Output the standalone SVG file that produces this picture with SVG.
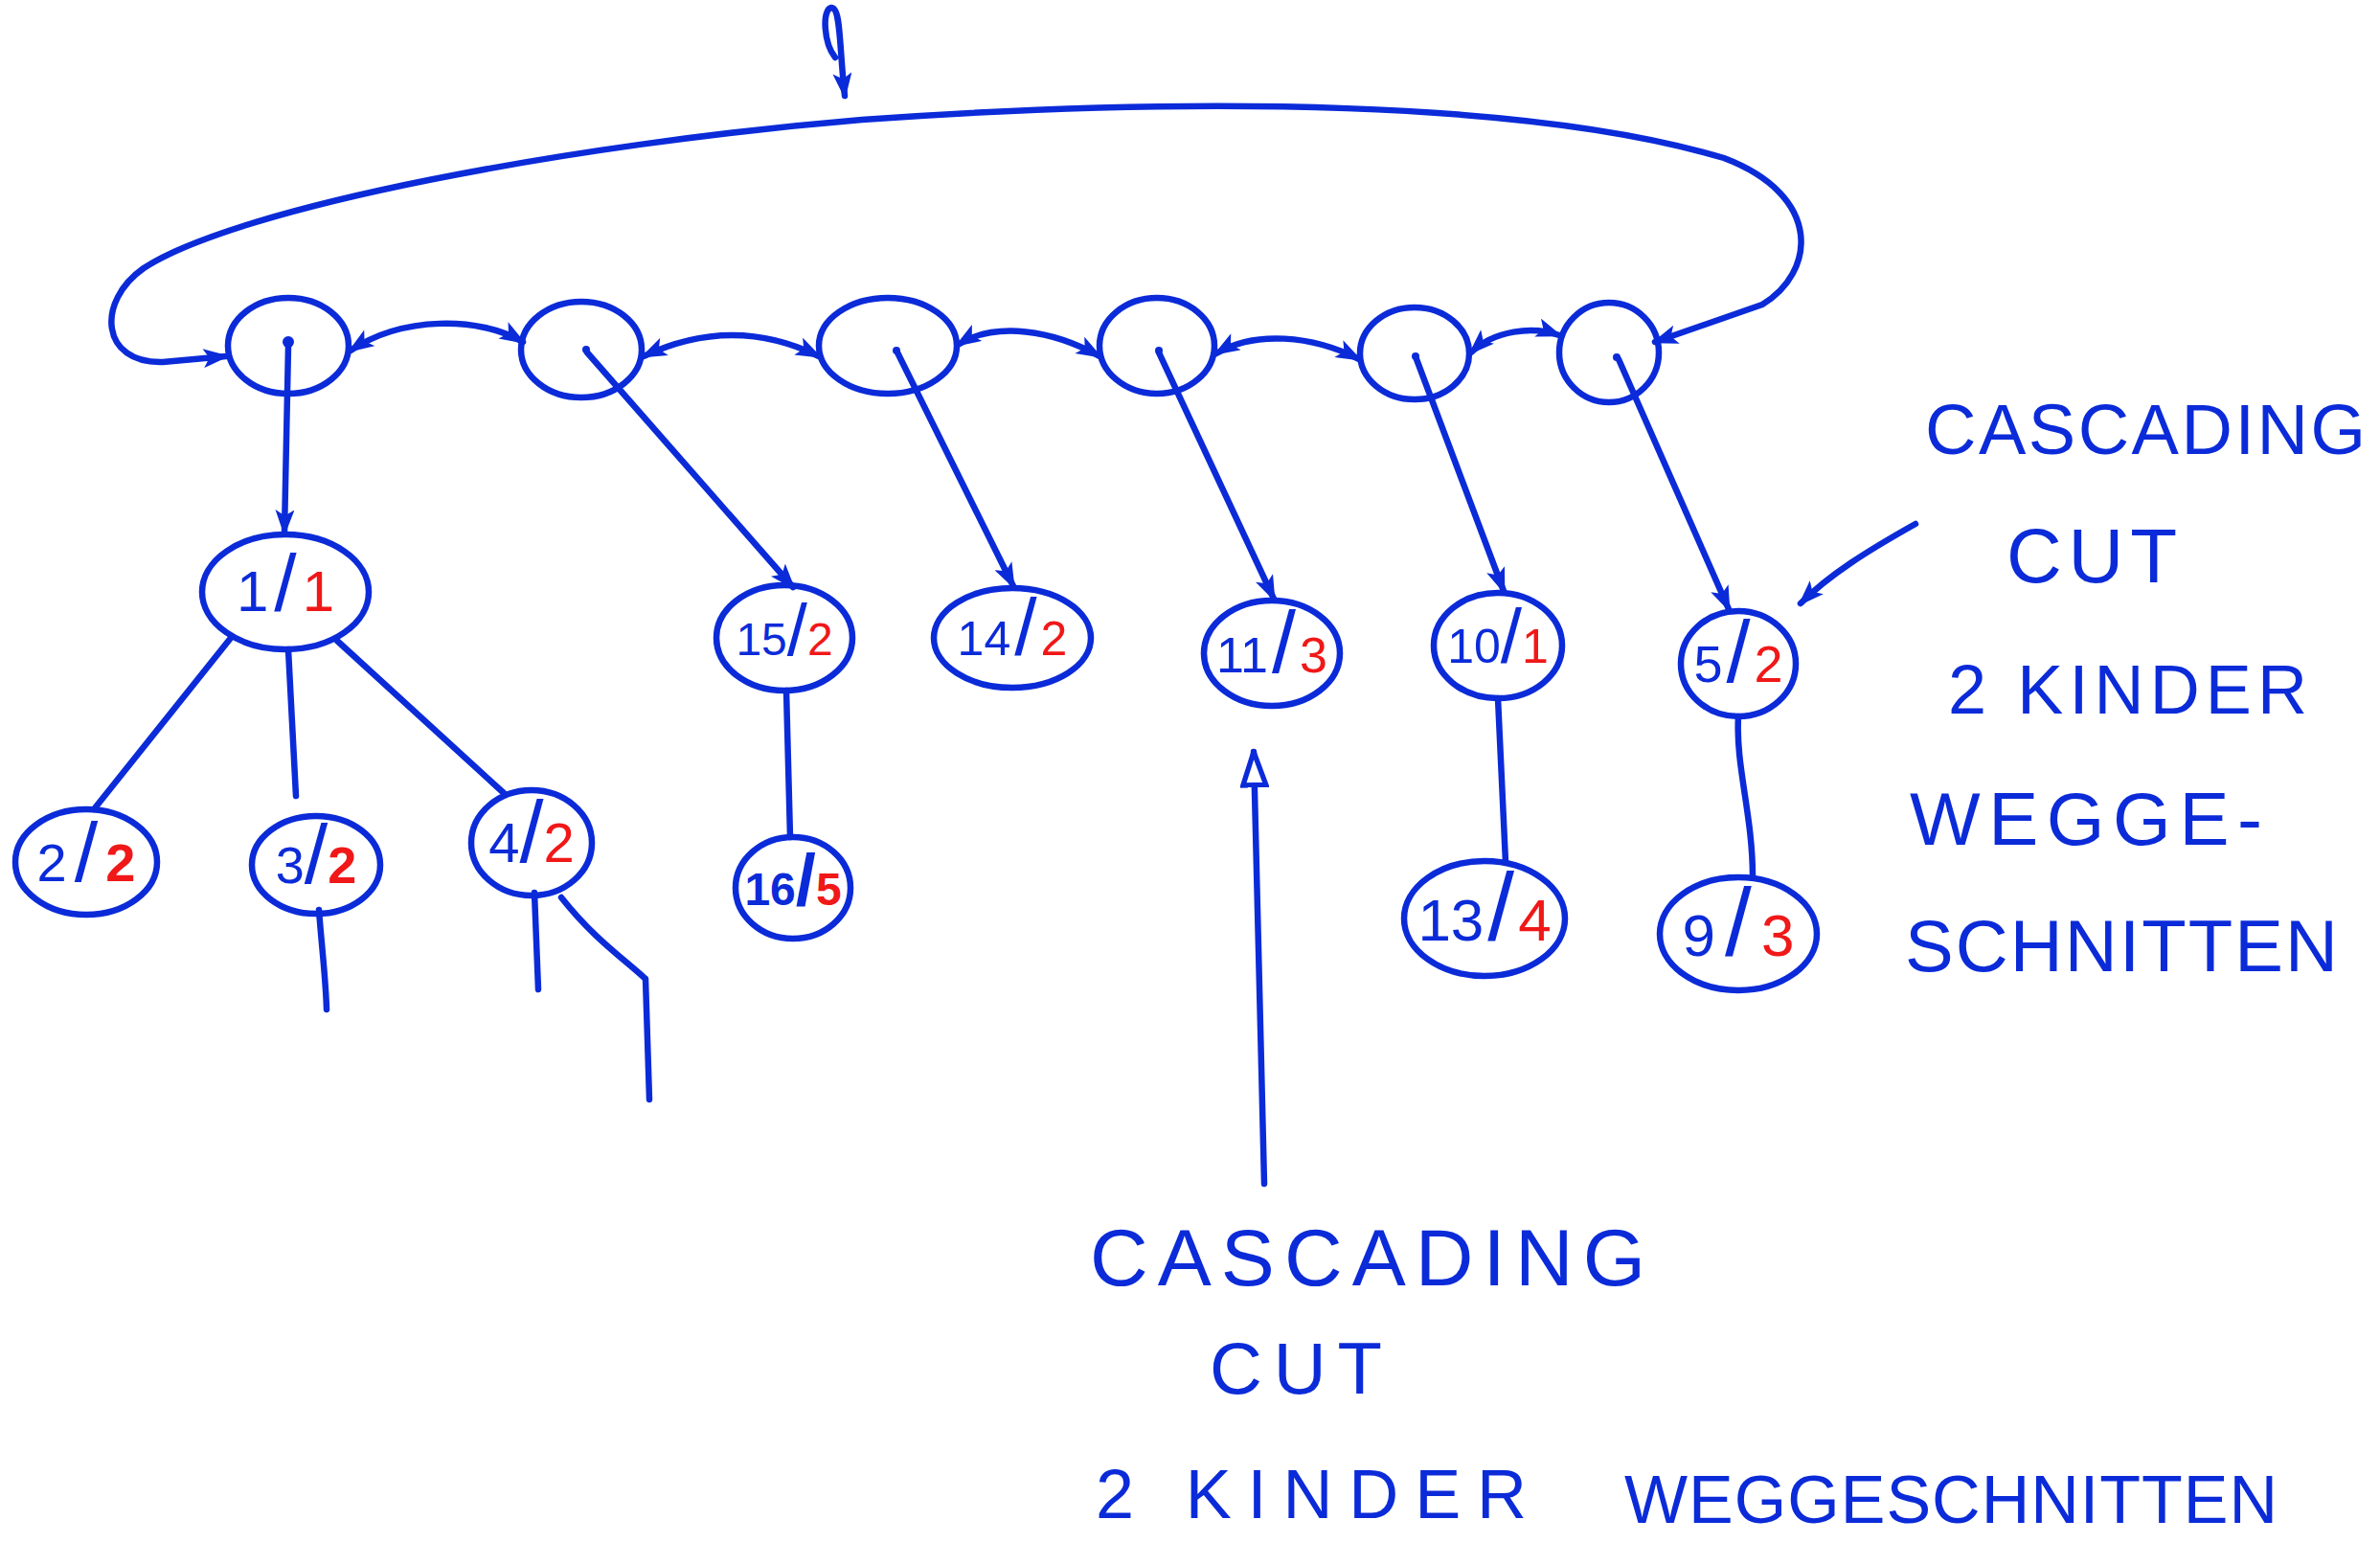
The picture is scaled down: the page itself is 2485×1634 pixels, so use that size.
<svg xmlns="http://www.w3.org/2000/svg" width="2485" height="1634" viewBox="0 0 2485 1634">
<style>
.ln{fill:none;stroke:#0b2bd9;stroke-width:6.5;stroke-linecap:round;stroke-linejoin:round}
.nd{fill:none;stroke:#0b2bd9;stroke-width:6.5}
.lb{font-family:"Liberation Sans",Arial,sans-serif;text-anchor:middle;fill:#0b2bd9}
.r{fill:#f01818}
.hw{font-family:"Liberation Sans",Arial,sans-serif;fill:#0b2bd9}
.dot{fill:#0b2bd9}
</style>
<defs>
<marker id="ah" viewBox="0 0 22 16" refX="19" refY="8" markerWidth="28" markerHeight="20" markerUnits="userSpaceOnUse" orient="auto-start-reverse">
<path d="M0,0 L22,8 L0,16 L5,8 z" fill="#0b2bd9"/>
</marker>
<marker id="open" viewBox="0 0 30 22" refX="28" refY="11" markerWidth="40" markerHeight="30" markerUnits="userSpaceOnUse" orient="auto">
<path d="M2,2 L28,11 L2,20 z" fill="#ffffff" stroke="#0b2bd9" stroke-width="4"/>
</marker>
</defs>

<g id="connectors">
<!-- entry arrow -->
<path class="ln" d="M872,60 C860,45 858,10 868,8 C878,8 876,45 882,100" marker-end="url(#ah)"/>
<!-- big loop -->
<path class="ln" d="M1728,357 L1840,318 C1895,285 1905,205 1800,165 C1600,105 1250,100 900,125 C600,150 250,215 150,280 C100,315 105,380 170,378 L236,372" marker-start="url(#ah)" marker-end="url(#ah)"/>
<!-- root list double arrows -->
<path class="ln" d="M366,366 C420,330 500,330 546,357" marker-start="url(#ah)" marker-end="url(#ah)"/>
<path class="ln" d="M672,372 C740,340 800,345 855,372" marker-start="url(#ah)" marker-end="url(#ah)"/>
<path class="ln" d="M1000,360 C1040,335 1100,345 1148,372" marker-start="url(#ah)" marker-end="url(#ah)"/>
<path class="ln" d="M1270,369 C1310,345 1370,350 1419,375" marker-start="url(#ah)" marker-end="url(#ah)"/>
<path class="ln" d="M1536,368 C1560,345 1600,340 1628,350" marker-start="url(#ah)" marker-end="url(#ah)"/>
<!-- root to child pointers -->
<path class="ln" d="M301,361 L297,556" marker-end="url(#ah)"/>
<path class="ln" d="M613,368 L828,613" marker-end="url(#ah)"/>
<path class="ln" d="M937,368 L1058,612" marker-end="url(#ah)"/>
<path class="ln" d="M1210,368 L1330,625" marker-end="url(#ah)"/>
<path class="ln" d="M1479,375 L1570,617" marker-end="url(#ah)"/>
<path class="ln" d="M1690,375 L1805,636" marker-end="url(#ah)"/>
<!-- tree edges -->
<path class="ln" d="M241,666 L98,845"/>
<path class="ln" d="M301,678 L309,831"/>
<path class="ln" d="M352,669 L526,828"/>
<path class="ln" d="M821,721 L825,874"/>
<path class="ln" d="M1564,729 L1572,900"/>
<path class="ln" d="M1815,748 C1812,800 1830,850 1830,916"/>
<!-- dangling edges -->
<path class="ln" d="M333,950 C336,990 340,1020 341,1054"/>
<path class="ln" d="M558,932 L562,1033"/>
<path class="ln" d="M586,937 C620,980 650,1000 674,1022 L678,1148"/>
<!-- annotation arrows -->
<path class="ln" d="M1320,1236 L1309,785" marker-end="url(#open)"/>
<path class="ln" d="M2000,547 C1950,575 1910,600 1880,630" marker-end="url(#ah)"/>
</g>

<g id="root1"><ellipse class="nd" cx="301" cy="361" rx="63" ry="50"/><circle class="dot" cx="301" cy="357" r="6"/></g>
<g id="root2"><ellipse class="nd" cx="607" cy="365" rx="63" ry="50"/><circle class="dot" cx="612" cy="365" r="4"/></g>
<g id="root3"><ellipse class="nd" cx="927" cy="361" rx="72" ry="50"/><circle class="dot" cx="936" cy="366" r="4"/></g>
<g id="root4"><ellipse class="nd" cx="1208" cy="361" rx="60" ry="50"/><circle class="dot" cx="1210" cy="366" r="4"/></g>
<g id="root5"><ellipse class="nd" cx="1477" cy="369" rx="57" ry="48"/><circle class="dot" cx="1478" cy="372" r="4"/></g>
<g id="root6"><ellipse class="nd" cx="1680" cy="368" rx="52" ry="52"/><circle class="dot" cx="1688" cy="373" r="4"/></g>

<g id="n1"><ellipse class="nd" cx="298" cy="618" rx="87" ry="60"/>
<text class="lb" x="298" y="638" font-size="60">1<tspan font-size="84" dx="6">/</tspan><tspan class="r" dx="6">1</tspan></text></g>
<g id="n15"><ellipse class="nd" cx="819" cy="666" rx="71" ry="55"/>
<text class="lb" x="819" y="684" font-size="48">15<tspan font-size="76">/</tspan><tspan class="r">2</tspan></text></g>
<g id="n14"><ellipse class="nd" cx="1057" cy="666" rx="82" ry="52"/>
<text class="lb" x="1057" y="684" font-size="50">14<tspan font-size="84" dx="4">/</tspan><tspan class="r" dx="4">2</tspan></text></g>
<g id="n11"><ellipse class="nd" cx="1328" cy="682" rx="71" ry="55"/>
<text class="lb" x="1328" y="702" font-size="52">11<tspan font-size="90" dx="4">/</tspan><tspan class="r" dx="4">3</tspan></text></g>
<g id="n10"><ellipse class="nd" cx="1564" cy="674" rx="67" ry="55"/>
<text class="lb" x="1564" y="692" font-size="50">10<tspan font-size="80">/</tspan><tspan class="r">1</tspan></text></g>
<g id="n5"><ellipse class="nd" cx="1815" cy="693" rx="60" ry="55"/>
<text class="lb" x="1815" y="712" font-size="54">5<tspan font-size="90" dx="4">/</tspan><tspan class="r" dx="4">2</tspan></text></g>

<g id="n2"><ellipse class="nd" cx="90" cy="900" rx="74" ry="55"/>
<text class="lb" x="90" y="920" font-size="56">2<tspan font-size="88" dx="8">/</tspan><tspan class="r" dx="8" font-weight="bold">2</tspan></text></g>
<g id="n3"><ellipse class="nd" cx="330" cy="903" rx="67" ry="51"/>
<text class="lb" x="330" y="922" font-size="54">3<tspan font-size="88">/</tspan><tspan class="r" font-weight="bold">2</tspan></text></g>
<g id="n4"><ellipse class="nd" cx="555" cy="880" rx="63" ry="55"/>
<text class="lb" x="555" y="900" font-size="58">4<tspan font-size="90">/</tspan><tspan class="r">2</tspan></text></g>
<g id="n16"><ellipse class="nd" cx="828" cy="927" rx="60" ry="53"/>
<text class="lb" x="828" y="945" font-size="48" font-weight="bold">16<tspan font-size="76">/</tspan><tspan class="r">5</tspan></text></g>
<g id="n13"><ellipse class="nd" cx="1550" cy="959" rx="84" ry="60"/>
<text class="lb" x="1550" y="982" font-size="62">13<tspan font-size="100" dx="4">/</tspan><tspan class="r" dx="4">4</tspan></text></g>
<g id="n9"><ellipse class="nd" cx="1815" cy="975" rx="82" ry="59"/>
<text class="lb" x="1815" y="998" font-size="62">9<tspan font-size="100" dx="10">/</tspan><tspan class="r" dx="10">3</tspan></text></g>

<g id="label-right">
<text class="hw" x="2010" y="474" font-size="74" textLength="460" lengthAdjust="spacing">CASCADING</text>
<text class="hw" x="2095" y="608" font-size="80" textLength="178" lengthAdjust="spacing">CUT</text>
<text class="hw" x="2034" y="745" font-size="72" textLength="375" lengthAdjust="spacing">2 KINDER</text>
<text class="hw" x="1994" y="882" font-size="78" textLength="368" lengthAdjust="spacing">WEGGE-</text>
<text class="hw" x="1989" y="1014" font-size="76" textLength="452" lengthAdjust="spacing">SCHNITTEN</text>
</g>
<g id="label-bottom">
<text class="hw" x="1138" y="1342" font-size="84" textLength="580" lengthAdjust="spacing">CASCADING</text>
<text class="hw" x="1263" y="1455" font-size="76" textLength="180" lengthAdjust="spacing">CUT</text>
<text class="hw" x="1144" y="1585" font-size="72" textLength="450" lengthAdjust="spacing">2 KINDER</text>
<text class="hw" x="1696" y="1590" font-size="70" textLength="682" lengthAdjust="spacing">WEGGESCHNITTEN</text>
</g>
</svg>
